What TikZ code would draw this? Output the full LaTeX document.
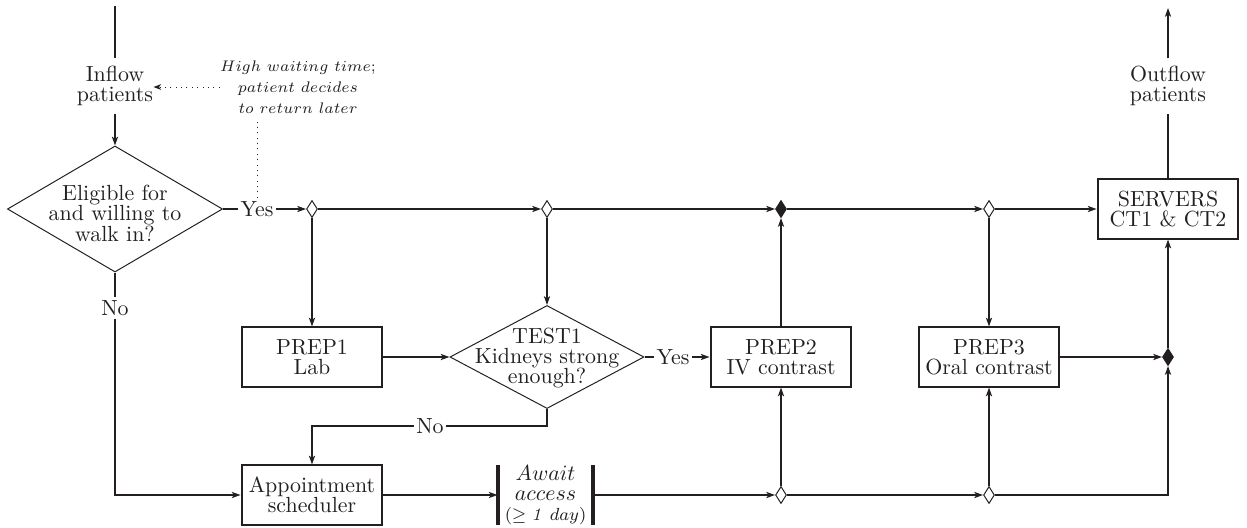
\documentclass[tikz,border=0pt]{standalone}
\usetikzlibrary{shapes.geometric,arrows.meta}
\definecolor{ink}{RGB}{35,31,32}
\begin{document}
\begin{tikzpicture}[x=0.457pt,y=-0.457pt,
  every node/.style={font=\fontsize{10}{9.2}\selectfont, text=ink},
  plain/.style={draw=ink, line width=0.9pt},
  flow/.style={plain, -{Stealth[length=4pt,width=2.8pt,inset=1pt]}},
  notes/.style={draw=ink, line width=0.45pt, dotted},
  textnode/.style={align=center, inner xsep=0pt, inner ysep=3.3pt},
  notenode/.style={align=center, font=\fontsize{7}{9.6}\selectfont, inner xsep=0pt, inner ysep=2pt},
  lbl/.style={inner xsep=1pt, inner ysep=1.5pt},
  stepbox/.style={draw=ink, line width=0.9pt, minimum width=64.4pt, minimum height=27pt, align=center, inner sep=2pt},
  decision/.style={diamond, draw=ink, line width=0.45pt, inner sep=0pt},
  junc/.style={diamond, draw=ink, line width=0.45pt, fill=white, inner sep=0pt, minimum width=5pt, minimum height=7.8pt},
  juncfull/.style={junc, fill=ink},
  queue/.style={align=center, minimum width=43.4pt, minimum height=27.4pt, inner sep=0pt},
  bar/.style={draw=ink, line width=1.8pt}]
\useasboundingbox (0,0) rectangle (1247,527);

% inflow side
\coordinate (intop) at (115,6);
\node[textnode] (inflow) at (115,86) {Inflow\\patients};
\node[notenode] (note) at (298,87) {$High~waiting~time;$\\$patient~decides$\\$to~return~later$};
\node[decision, minimum width=98.3pt, minimum height=57.6pt,
  label={[align=center, yshift=-2pt]center:Eligible for\\and willing to\\walk in?}] (elig) at (115,209) {};
\node[lbl] (yes1) at (257,209) {Yes};
\node[lbl] (no1) at (115,308) {No};

% upper flow line
\node[junc] (j1) at (312,209) {};
\node[junc] (j2) at (547,209) {};
\node[juncfull] (j3) at (781,209) {};
\node[junc] (j4) at (989,209) {};
\node[stepbox] (servers) at (1168,209) {SERVERS\\CT1 \& CT2};
\node[textnode] (outflow) at (1168,86) {Outflow\\patients};
\coordinate (outtop) at (1168,8);

% preparation steps
\node[stepbox] (prep1) at (312,357) {PREP1\\Lab};
\node[decision, minimum width=88.7pt, minimum height=47.1pt,
  label={[align=center, yshift=-0.6pt]center:TEST1\\Kidneys strong\\enough?}] (test1) at (547,357) {};
\node[lbl] (yes2) at (673,357) {Yes};
\node[stepbox] (prep2) at (781,357) {PREP2\\IV contrast};
\node[stepbox] (prep3) at (989,357) {PREP3\\Oral contrast};
\node[juncfull] (j5) at (1168,357) {};
\node[lbl] (no2) at (430,426) {No};

% scheduled patients
\node[stepbox] (appt) at (312,495) {Appointment\\scheduler};
\node[queue] (await) at (545.5,495) {$Await$\\$access$\\{\footnotesize$(\geq \mathit{1}~day)$}};
\draw[bar] (await.north west) -- (await.south west);
\draw[bar] (await.north east) -- (await.south east);
\node[junc] (j6) at (781,495) {};
\node[junc] (j7) at (989,495) {};

% connectors
\draw[plain] (intop) -- (inflow.north);
\draw[flow] (inflow.south) -- (elig.north);
\draw[plain] (elig.east) -- (yes1.west);
\draw[flow] (yes1.east) -- (j1.west);
\draw[flow] (j1.east) -- (j2.west);
\draw[flow] (j2.east) -- (j3.west);
\draw[flow] (j3.east) -- (j4.west);
\draw[flow] (j4.east) -- (servers.west);
\draw[flow] (j1.south) -- (prep1.north);
\draw[flow] (j2.south) -- (test1.north);
\draw[flow] (prep1.east) -- (test1.west);
\draw[plain] (test1.east) -- (yes2.west);
\draw[flow] (yes2.east) -- (prep2.west);
\draw[flow] (prep2.north) -- (j3.south);
\draw[flow] (j4.south) -- (prep3.north);
\draw[flow] (prep3.east) -- (j5.west);
\draw[flow] (j5.north) -- (servers.south);
\draw[plain] (servers.north) -- (outflow.south);
\draw[flow] (outflow.north) -- (outtop);
\draw[plain] (elig.south) -- (no1.north);
\draw[flow] (no1.south) |- (appt.west);
\draw[plain] (test1.south) |- (no2.east);
\draw[flow] (no2.west) -| (appt.north);
\draw[flow] (appt.east) -- (await.west);
\draw[flow] (await.east) -- (j6.west);
\draw[flow] (j6.east) -- (j7.west);
\draw[flow] (j6.north) -- (prep2.south);
\draw[flow] (j7.north) -- (prep3.south);
\draw[flow] (j7.east) -| (j5.south);

% walk-in feedback note
\draw[notes, -{Stealth[length=3.5pt,width=2.6pt,inset=1pt]}] (note.west) -- (note.west -| inflow.east);
\draw[notes] (yes1.north) -- (yes1.north |- note.south);
\end{tikzpicture}
\end{document}
